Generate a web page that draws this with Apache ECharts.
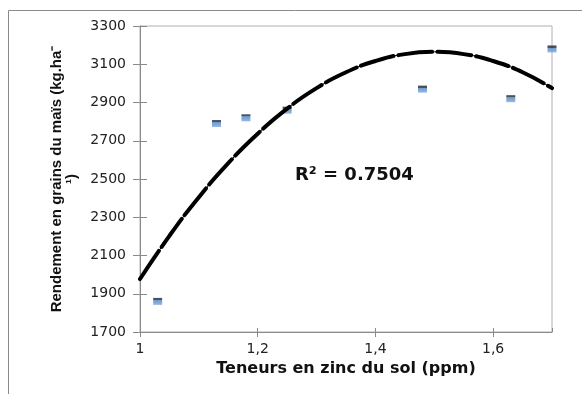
<!DOCTYPE html>
<html>
<head>
<meta charset="utf-8">
<script src="https://cdn.jsdelivr.net/npm/echarts@6/dist/echarts.min.js"></script>
<style>
  html, body { margin: 0; padding: 0; background: #fff; }
  #chart { width: 582px; height: 394px; }
</style>
</head>
<body>
<div id="chart"></div>
<script>
// données mesurées (teneur en zinc, rendement)
const zinc = [1.03, 1.13, 1.18, 1.25, 1.48, 1.63, 1.70];
const rendement = [1860, 2790, 2820, 2860, 2970, 2920, 3180];

// courbe de tendance
const trendX = [1.0, 1.05, 1.1, 1.15, 1.2, 1.25, 1.3, 1.35, 1.4, 1.45, 1.5, 1.55, 1.6, 1.65, 1.7];
const trendY = [1977, 2203, 2405, 2583, 2737, 2868, 2975, 3058, 3117, 3153, 3165, 3153, 3117, 3058, 2975];

const r2Text = "R² = 0.7504";

const chart = echarts.init(document.getElementById("chart"));

let points = [];
for (let i = 0; i < zinc.length; i++) {
  points.push([zinc[i], rendement[i]]);
}
let trend = [];
for (let i = 0; i < trendX.length; i++) {
  trend.push([trendX[i], trendY[i]]);
}

const markerColor = {
  type: "linear", x: 0, y: 0, x2: 0, y2: 1,
  colorStops: [
    { offset: 0, color: "#1c2433" },
    { offset: 0.3, color: "#1c2433" },
    { offset: 0.31, color: "#4a7fc0" },
    { offset: 1, color: "#7ea8da" },
  ],
};

const tickLabel = { fontFamily: "DejaVu Sans", fontSize: 14, color: "#222" };

let option = {
  animation: false,
  graphic: [
    {
      type: "rect",
      shape: { x: 8.5, y: 10.5, width: 600, height: 400 },
      style: { fill: "none", stroke: "#8a8a8a", lineWidth: 1 },
      silent: true,
    },
    {
      type: "text",
      left: 295,
      top: 166,
      style: {
        text: r2Text,
        fontFamily: "DejaVu Sans",
        fontWeight: "bold",
        fontSize: 18,
        fill: "#111",
      },
    },
  ],
  grid: {
    left: 140,
    top: 26,
    right: 30,
    bottom: 62,
    show: true,
    borderColor: "#b0b0b0",
    borderWidth: 1,
  },
  xAxis: [
    {
      type: "value",
      min: 1,
      max: 1.7,
      interval: 0.2,
      name: "Teneurs en zinc du sol (ppm)",
      nameLocation: "middle",
      nameGap: 28,
      nameTextStyle: {
        fontFamily: "DejaVu Sans",
        fontWeight: "bold",
        fontSize: 16,
        color: "#111",
      },
      axisLine: { lineStyle: { color: "#8a8a8a" } },
      axisTick: { show: true, length: 5, lineStyle: { color: "#8a8a8a" } },
      axisLabel: Object.assign({}, tickLabel, {
        margin: 10,
        showMaxLabel: false,
        formatter: function (v) {
          return String(+v.toFixed(1)).replace(".", ",");
        },
      }),
      splitLine: { show: false },
    },
    {
      type: "value",
      position: "bottom",
      min: 1,
      max: 1.7,
      interval: 0.2,
      axisLine: { show: false },
      axisTick: { show: true, inside: true, length: 4, lineStyle: { color: "#8a8a8a" } },
      axisLabel: { show: false },
      splitLine: { show: false },
    },
  ],
  yAxis: [
    {
      type: "value",
      min: 1700,
      max: 3300,
      interval: 200,
      name: "Rendement en grains du maïs (kg.ha⁻\n¹)",
      nameLocation: "middle",
      nameGap: 61,
      nameRotate: 90,
      nameTextStyle: {
        fontFamily: "Liberation Sans",
        fontWeight: "bold",
        fontSize: 15,
        lineHeight: 15,
        color: "#111",
      },
      axisLine: { show: true, lineStyle: { color: "#8a8a8a" } },
      axisTick: { show: true, length: 7, lineStyle: { color: "#8a8a8a" } },
      axisLabel: Object.assign({}, tickLabel, {
        margin: 14,
        formatter: function (v) {
          return String(v);
        },
      }),
      splitLine: { show: false },
    },
    {
      type: "value",
      position: "left",
      min: 1700,
      max: 3300,
      interval: 200,
      axisLine: { show: false },
      axisTick: { show: true, inside: true, length: 7, lineStyle: { color: "#8a8a8a" } },
      axisLabel: { show: false },
      splitLine: { show: false },
    },
  ],
  series: [
    {
      name: "mesures",
      type: "scatter",
      data: points,
      symbol: "rect",
      symbolSize: [9, 7],
      itemStyle: { color: markerColor },
      z: 2,
    },
    {
      name: "tendance",
      type: "line",
      data: trend,
      smooth: true,
      showSymbol: false,
      lineStyle: { color: "#000", width: 1 },
      z: 3,
    },
    {
      name: "tendance épaisse",
      type: "line",
      data: trend,
      smooth: true,
      showSymbol: false,
      lineStyle: { color: "#000", width: 4, type: [34, 5], cap: "round" },
      z: 4,
    },
  ],
};

chart.setOption(option);
</script>
</body>
</html>
